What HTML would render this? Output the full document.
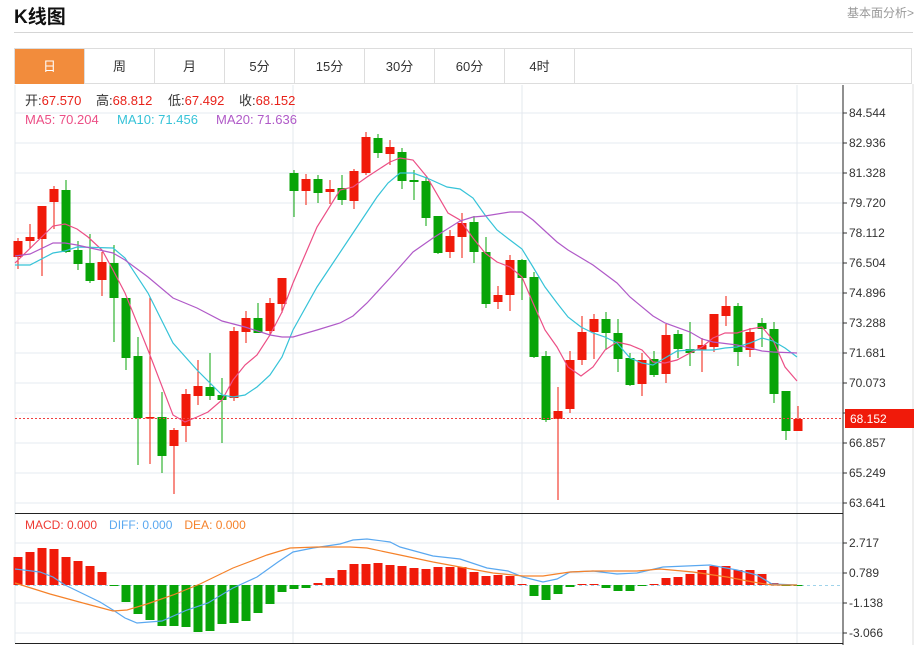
<!DOCTYPE html>
<html><head><meta charset="utf-8">
<style>
html,body{margin:0;padding:0;background:#fff;width:920px;height:645px;overflow:hidden;font-family:"Liberation Sans","Noto Sans CJK SC",sans-serif;}
.t{position:absolute;left:14px;top:2px;font-size:19px;font-weight:bold;color:#111;}
.r{position:absolute;right:6px;top:4px;font-size:12px;color:#999;}
.hl{position:absolute;left:14px;top:32px;width:899px;height:1px;background:#d5d5d5;}
.tabs{position:absolute;left:14px;top:48px;width:898px;height:36px;border:1px solid #ddd;box-sizing:border-box;}
.tab{position:absolute;top:0;height:35px;width:70px;border-right:1px solid #ddd;box-sizing:border-box;text-align:center;line-height:35px;font-size:13px;color:#333;}
.tab.a{background:#f28c3c;color:#fff;}
svg{position:absolute;left:0;top:0;}
</style></head><body>
<div class="t">K线图</div>
<div class="r">基本面分析&gt;</div>
<div class="hl"></div>
<div class="tabs">
<div class="tab a" style="left:0">日</div>
<div class="tab" style="left:70px">周</div>
<div class="tab" style="left:140px">月</div>
<div class="tab" style="left:210px">5分</div>
<div class="tab" style="left:280px">15分</div>
<div class="tab" style="left:350px">30分</div>
<div class="tab" style="left:420px">60分</div>
<div class="tab" style="left:490px">4时</div>
</div>
<svg id="s" width="920" height="645" xmlns="http://www.w3.org/2000/svg" font-family="Liberation Sans, Noto Sans CJK SC, sans-serif">
<g id="grid"></g>
<g id="c"></g>
<g font-size="12" fill="#333">
<text x="849" y="117">84.544</text>
<text x="849" y="147">82.936</text>
<text x="849" y="177">81.328</text>
<text x="849" y="207">79.720</text>
<text x="849" y="237">78.112</text>
<text x="849" y="267">76.504</text>
<text x="849" y="297">74.896</text>
<text x="849" y="327">73.288</text>
<text x="849" y="357">71.681</text>
<text x="849" y="387">70.073</text>
<text x="849" y="447">66.857</text>
<text x="849" y="477">65.249</text>
<text x="849" y="507">63.641</text>
<text x="849" y="547">2.717</text>
<text x="849" y="577">0.789</text>
<text x="849" y="607">-1.138</text>
<text x="849" y="637">-3.066</text>
</g>
<rect x="845" y="409" width="69" height="19" fill="#f01a0a"/>
<text x="850" y="423" font-size="12" fill="#fff">68.152</text>
<g font-size="13">
<text x="25" y="105" fill="#333">开:<tspan fill="#e8221a">67.570</tspan></text>
<text x="96" y="105" fill="#333">高:<tspan fill="#e8221a">68.812</tspan></text>
<text x="168" y="105" fill="#333">低:<tspan fill="#e8221a">67.492</tspan></text>
<text x="239" y="105" fill="#333">收:<tspan fill="#e8221a">68.152</tspan></text>
<text x="25" y="124" fill="#ec4f86">MA5: 70.204</text>
<text x="117" y="124" fill="#36c3d8">MA10: 71.456</text>
<text x="216" y="124" fill="#b05ac8">MA20: 71.636</text>
</g>
<g font-size="12">
<text x="25" y="529"><tspan fill="#ee3a33">MACD: 0.000</tspan><tspan fill="#5aa8f0" dx="12">DIFF: 0.000</tspan><tspan fill="#f5822a" dx="12">DEA: 0.000</tspan></text>
</g>
</svg>
<script>
var NS="http://www.w3.org/2000/svg";
function el(p,t,a){var e=document.createElementNS(NS,t);for(var k in a)e.setAttribute(k,a[k]);p.appendChild(e);return e;}
var g=document.getElementById('grid'),c=document.getElementById('c');
for(var y=113;y<=503;y+=30)el(g,'line',{x1:15,x2:843,y1:y,y2:y,stroke:'#e6ebf0','stroke-width':1});
[543,573,603,633].forEach(function(y){el(g,'line',{x1:15,x2:843,y1:y,y2:y,stroke:'#e6ebf0'});});
[15,293,522,797].forEach(function(x){el(g,'line',{x1:x,x2:x,y1:85,y2:643,stroke:'#e3e8ee'});});
for(var y=113;y<=503;y+=30)el(g,'line',{x1:843,x2:847,y1:y,y2:y,stroke:'#333'});
[543,573,603,633].forEach(function(y){el(g,'line',{x1:843,x2:847,y1:y,y2:y,stroke:'#333'});});
el(g,'line',{x1:843,x2:843,y1:85,y2:645,stroke:'#222'});
el(g,'line',{x1:15,x2:843,y1:513.5,y2:513.5,stroke:'#222'});
el(g,'line',{x1:15,x2:843,y1:643.5,y2:643.5,stroke:'#222'});
el(g,'line',{x1:913,x2:913,y1:84,y2:645,stroke:'#ddd'});
el(g,'line',{x1:15,x2:843,y1:585.5,y2:585.5,stroke:'#9fd3ea','stroke-dasharray':'3,3'});
var K=[[257,241,238,269],[241,237,224,249],[239,206,206,276],[202,189,186,229],[190,252,180,253],[250,264,241,270],[263,281,234,283],[280,262,252,296],[263,298,245,342],[298,358,298,370],[356,418,337,465],[418,417,297,464],[417,456,392,473],[446,430,428,494],[426,394,389,442],[396,386,360,405],[387,396,353,400],[395,400,378,443],[398,331,327,401],[332,318,311,343],[318,333,303,333],[331,303,298,335],[304,278,278,313],[173,191,170,217],[191,179,174,205],[179,193,175,203],[192,189,180,204],[188,200,175,205],[201,171,169,209],[173,137,132,175],[138,153,134,158],[154,147,140,165],[152,181,148,189],[180,182,170,200],[181,218,177,226],[216,253,216,254],[252,236,230,258],[237,223,213,258],[222,252,216,263],[252,304,237,308],[302,295,286,309],[295,260,255,311],[260,278,259,300],[277,357,272,358],[356,420,351,422],[419,411,387,500],[409,360,351,413],[360,332,316,365],[332,319,314,359],[319,333,312,350],[333,359,319,372],[358,385,353,386],[384,360,353,396],[359,375,351,377],[374,335,324,383],[334,349,330,358],[349,353,322,366],[350,345,338,372],[347,314,314,352],[316,306,296,326],[306,352,303,366],[350,332,328,357],[323,329,318,347],[329,394,322,403],[391,431,391,440],[431,419,406,431]];
var R='#f01a0a',G='#08a408';
K.forEach(function(k,i){var x=18+i*12;var up=k[1]<k[0];var col=up?R:G;
el(c,'line',{x1:x,x2:x,y1:k[2],y2:k[3],stroke:col,'stroke-width':1});
var t=Math.min(k[0],k[1]),h=Math.max(Math.abs(k[0]-k[1]),1.5);
el(c,'rect',{x:x-4.5,y:t,width:9,height:h,fill:col});});
el(c,'line',{x1:15,x2:843,y1:418.5,y2:418.5,stroke:'#f04040','stroke-dasharray':'2,2'});
function pl(pts,col){el(c,'polyline',{points:pts,fill:'none',stroke:col,'stroke-width':1.2});}
pl("15,263 53,226 65,224 77,229 88,237 102,250 113,270 125,293 148,350 173,415 185,422 197,417 208,412 222,400 233,380 245,365 257,355 270,335 282,312 293,283 317,227 340,190 353,187 367,177 390,162 400,158 413,160 427,177 448,213 460,220 473,238 485,253 497,262 510,267 522,277 533,303 545,330 557,347 568,367 581,376 593,367 605,350 617,342 630,345 642,350 653,362 665,363 677,360 690,353 702,347 713,338 725,333 737,333 750,329 762,327 773,340 785,367 797,381",'#ec4f86');
pl("15,265 30,265 53,253 65,251 77,247 113,248 125,258 148,293 173,343 197,370 222,395 233,397 245,395 257,387 270,375 282,357 293,330 317,287 353,233 377,197 388,183 400,173 413,173 427,178 447,187 460,189 473,198 485,215 497,230 510,240 522,249 533,267 545,287 557,303 568,317 581,327 593,333 605,337 617,343 630,358 642,363 653,365 665,358 677,351 690,350 713,350 725,348 737,347 750,343 762,338 773,341 785,348 797,357",'#36c3d8');
pl("15,256 30,254 53,243 65,243 77,245 113,253 125,260 148,277 173,298 197,308 222,321 245,327 270,335 282,337 293,337 317,330 340,323 353,316 367,303 390,278 413,252 433,238 460,221 473,217 485,216 510,212 522,212 533,220 557,242 568,250 593,265 617,283 630,297 653,316 665,323 690,332 702,339 713,342 737,345 750,348 762,351 773,352 797,353",'#b05ac8');
var M=[557,552,548,549,557,561,566,572,586,602,614,620,626,626,627,632,631,624,623,621,613,604,592,589,588,583,578,570,564,564,563,565,566,568,569,567,567,567,572,576,575,576,584,596,600,594,587,584,584,588,591,591,586,584,578,577,574,570,566,566,570,570,574,583,586,585];
var Z=585;
M.forEach(function(v,i){var x=18+i*12;var col=v<Z?R:G;var t=Math.min(v,Z),h=Math.max(Math.abs(v-Z),1);
el(c,'rect',{x:x-4.5,y:t,width:9,height:h,fill:col});});
pl("15,569 40,572 53,577 65,585 100,602 113,610 125,618 137,623 162,621 187,610 208,603 233,588 257,577 278,562 293,552 313,548 340,544 353,540 367,539 390,542 400,547 433,556 460,559 487,568 508,571 523,577 543,582 557,579 570,572 593,571 617,574 637,573 663,567 710,565 737,570 757,575 772,584 797,585",'#5aa8f0');
pl("15,583 50,594 83,603 113,611 127,610 147,604 173,595 200,584 233,568 267,555 290,548 317,547 350,547 367,548 400,555 433,562 460,567 493,573 523,576 543,576 570,572 593,571 637,571 660,569 693,572 727,577 753,582 772,585 797,585",'#f5822a');
</script>
</body></html>
